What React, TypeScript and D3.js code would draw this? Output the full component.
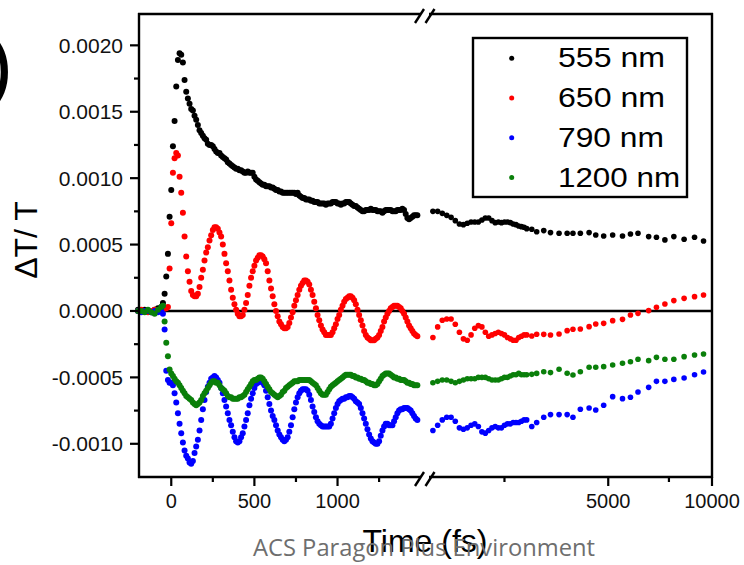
import React from 'react';
import * as d3 from 'd3';

// Values are stored in units of 1e-4 (ΔT/T)
const UNIT = 1e-4;

// Left (linear) segment sample times, fs
const leftTimes: number[] = [...d3.range(-200, -59, 20), ...d3.range(-50, 1481, 10)];
// Right (log) segment sample times, fs
const rightTimes: number[] = [
  1550, 1600, 1650, 1700, 1750, 1800, 1850, 1900, 1950, 2000,
  2050, 2100, 2150, 2200, 2250, 2300, 2350, 2400, 2450, 2500,
  2550, 2600, 2650, 2700, 2750, 2800, 2850, 2900,
  3000, 3100, 3250, 3400, 3600, 3800, 3950, 4150, 4400, 4600, 4850,
  5150, 5500, 5800, 6100, 6550, 6900, 7300, 7750, 8300, 8900, 9450,
];

const black555Left: number[] = [
  0.1, 0.0, 0.1, 0.0, -0.1, 0.1, 0.2, 0.3,
  0.6, 1.3, 2.6, 4.3, 7.1, 9.1, 12.4, 14.3, 16.9, 18.9,
  19.4, 19.3, 18.7, 17.4, 16.5, 16.0, 15.6, 15.2, 15.1, 14.7,
  14.4, 14.0, 13.6, 13.4, 13.2, 13.0, 12.9, 12.6, 12.5, 12.5,
  12.4, 12.2, 12.0, 11.9, 11.9, 11.7, 11.6, 11.5, 11.4, 11.2,
  11.1, 11.0, 10.9, 10.8, 10.7, 10.7, 10.6, 10.6, 10.5, 10.4,
  10.4, 10.5, 10.4, 10.4, 10.4, 10.1, 9.9, 9.8, 9.7, 9.6,
  9.5, 9.5, 9.4, 9.4, 9.4, 9.3, 9.3, 9.2, 9.1, 9.1,
  9.0, 9.0, 8.9, 8.9, 8.9, 8.9, 8.9, 8.9, 8.9, 8.9,
  8.8, 8.9, 8.7, 8.6, 8.5, 8.5, 8.4, 8.4, 8.4, 8.3,
  8.3, 8.2, 8.2, 8.2, 8.1, 8.1, 8.1, 8.1, 8.0, 8.1,
  8.1, 8.1, 8.2, 8.2, 8.2, 8.1, 8.1, 8.0, 8.1, 8.1,
  8.2, 8.2, 8.2, 8.1, 8.0, 7.9, 7.9, 7.8, 7.7, 7.6,
  7.5, 7.5, 7.6, 7.6, 7.6, 7.7, 7.6, 7.6, 7.6, 7.5,
  7.5, 7.5, 7.4, 7.5, 7.6, 7.6, 7.6, 7.6, 7.5, 7.5,
  7.5, 7.6, 7.6, 7.6, 7.7, 7.6, 7.3, 7.0, 6.9, 7.0,
  7.1, 7.2, 7.2, 7.2,
];
const red650Left: number[] = [
  0.0, 0.1, 0.0, -0.1, 0.0, 0.1, 0.0, 0.1,
  0.1, 0.2, 0.2, 0.3, 3.2, 6.6, 10.4, 11.5, 11.9, 11.7,
  10.1, 8.9, 7.4, 5.6, 4.1, 3.0, 2.2, 1.5, 1.2, 1.1,
  1.1, 1.3, 1.8, 2.5, 3.1, 3.8, 4.4, 4.8, 5.3, 5.7,
  6.1, 6.3, 6.3, 6.2, 5.9, 5.6, 5.0, 4.3, 3.6, 3.0,
  2.3, 1.6, 1.0, 0.5, 0.1, -0.2, -0.4, -0.4, -0.3, 0.1,
  0.6, 1.2, 1.9, 2.5, 3.0, 3.4, 3.8, 4.0, 4.2, 4.2,
  4.1, 3.9, 3.6, 3.0, 2.3, 1.7, 1.1, 0.5, 0.0, -0.4,
  -0.8, -1.0, -1.2, -1.3, -1.3, -1.2, -0.9, -0.5, -0.1, 0.4,
  0.8, 1.2, 1.6, 1.9, 2.1, 2.3, 2.3, 2.2, 2.0, 1.6,
  1.2, 0.7, 0.2, -0.3, -0.7, -1.1, -1.4, -1.6, -1.8, -1.8,
  -1.8, -1.8, -1.6, -1.3, -1.0, -0.6, -0.3, 0.1, 0.4, 0.7,
  0.9, 1.0, 1.1, 1.1, 1.0, 0.8, 0.5, 0.1, -0.3, -0.7,
  -1.1, -1.5, -1.8, -2.0, -2.1, -2.2, -2.2, -2.2, -2.1, -2.0,
  -1.8, -1.5, -1.2, -0.8, -0.5, -0.2, 0.0, 0.2, 0.3, 0.4,
  0.4, 0.4, 0.3, 0.2, 0.0, -0.2, -0.5, -0.8, -1.1, -1.3,
  -1.5, -1.7, -1.8, -1.9,
];
const blue790Left: number[] = [
  0.0, -0.1, 0.0, 0.0, -0.1, 0.0, -0.1, 0.0,
  -0.2, -1.4, -4.5, -5.2, -5.4, -5.4, -5.6, -6.2, -6.9, -7.7,
  -8.5, -9.2, -9.9, -10.5, -10.9, -11.1, -11.4, -11.5, -11.3, -10.7,
  -10.2, -9.7, -9.0, -8.2, -7.4, -6.7, -6.1, -5.7, -5.4, -5.1,
  -5.0, -4.9, -5.0, -5.2, -5.4, -5.8, -6.2, -6.7, -7.2, -7.7,
  -8.2, -8.6, -9.1, -9.5, -9.8, -9.9, -9.8, -9.5, -9.2, -8.7,
  -8.2, -7.7, -7.1, -6.6, -6.2, -5.8, -5.5, -5.4, -5.3, -5.3,
  -5.4, -5.6, -6.0, -6.5, -7.0, -7.5, -7.9, -8.2, -8.6, -9.0,
  -9.3, -9.5, -9.7, -9.8, -9.7, -9.5, -9.1, -8.6, -8.0, -7.4,
  -6.9, -6.5, -6.2, -6.0, -5.9, -5.9, -5.9, -6.0, -6.3, -6.7,
  -7.2, -7.6, -8.0, -8.3, -8.5, -8.6, -8.7, -8.7, -8.7, -8.7,
  -8.7, -8.5, -8.1, -7.7, -7.3, -7.0, -6.8, -6.7, -6.6, -6.6,
  -6.5, -6.5, -6.4, -6.4, -6.5, -6.6, -6.8, -6.9, -7.0, -7.3,
  -7.7, -8.1, -8.5, -8.9, -9.3, -9.6, -9.8, -9.9, -10.0, -10.0,
  -9.8, -9.4, -9.0, -8.7, -8.5, -8.5, -8.6, -8.6, -8.6, -8.3,
  -8.0, -7.7, -7.5, -7.4, -7.4, -7.3, -7.3, -7.3, -7.4, -7.5,
  -7.7, -7.9, -8.1, -8.2,
];
const green1200Left: number[] = [
  0.0, 0.0, -0.1, 0.1, -0.1, -0.2, 0.1, 0.3,
  0.4, -0.8, -2.4, -3.4, -4.4, -4.7, -4.9, -5.1, -5.3, -5.4,
  -5.6, -5.8, -6.0, -6.2, -6.4, -6.5, -6.6, -6.7, -6.9, -7.0,
  -7.1, -7.0, -6.9, -6.7, -6.4, -6.2, -6.0, -5.8, -5.6, -5.4,
  -5.3, -5.3, -5.4, -5.4, -5.6, -5.8, -5.9, -6.0, -6.2, -6.4,
  -6.5, -6.5, -6.6, -6.6, -6.6, -6.6, -6.5, -6.5, -6.4, -6.3,
  -6.1, -5.9, -5.7, -5.5, -5.3, -5.2, -5.2, -5.1, -5.0, -5.0,
  -5.1, -5.3, -5.5, -5.7, -5.9, -6.1, -6.2, -6.3, -6.4, -6.5,
  -6.4, -6.3, -6.1, -6.0, -5.8, -5.7, -5.6, -5.5, -5.4, -5.3,
  -5.3, -5.3, -5.2, -5.2, -5.2, -5.2, -5.2, -5.2, -5.2, -5.3,
  -5.4, -5.5, -5.6, -5.8, -6.0, -6.2, -6.3, -6.3, -6.3, -6.1,
  -5.9, -5.7, -5.6, -5.5, -5.4, -5.3, -5.2, -5.1, -5.0, -4.9,
  -4.8, -4.8, -4.8, -4.8, -4.9, -4.9, -5.0, -5.0, -5.1, -5.1,
  -5.2, -5.2, -5.3, -5.4, -5.4, -5.5, -5.5, -5.6, -5.6, -5.5,
  -5.3, -5.1, -4.9, -4.8, -4.7, -4.7, -4.7, -4.8, -4.9, -5.0,
  -5.0, -5.1, -5.1, -5.2, -5.2, -5.2, -5.3, -5.4, -5.4, -5.5,
  -5.5, -5.6, -5.6, -5.6,
];

const black555Right: number[] = [
  7.5, 7.5, 7.35, 7.2, 7.05, 6.8, 6.55, 6.5, 6.6, 6.7,
  6.7, 6.7, 6.85, 7.0, 7.0, 6.8, 6.65, 6.7, 6.65, 6.7,
  6.7, 6.65, 6.55, 6.5, 6.4, 6.35, 6.3, 6.2,
  6.15, 5.97, 6.05, 5.9, 5.85, 5.85, 5.85, 5.85, 5.9, 5.72, 5.65,
  5.72, 5.65, 5.8, 5.85, 5.6, 5.55, 5.35, 5.6, 5.4, 5.55, 5.27,
];
const red650Right: number[] = [
  -2.0, -1.2, -0.7, -0.6, -0.6, -1.0, -1.6, -2.1, -2.2, -1.8,
  -1.3, -1.1, -1.2, -1.6, -1.9, -1.8, -1.7, -1.6, -1.7, -1.8,
  -2.0, -2.1, -2.2, -2.2, -2.0, -1.9, -1.8, -1.8,
  -1.88, -1.75, -1.76, -1.81, -1.73, -1.48, -1.38, -1.36, -1.18, -0.98, -0.93,
  -0.73, -0.63, -0.3, -0.18, 0.03, 0.28, 0.53, 0.78, 0.95, 1.08, 1.2,
];
const blue790Right: number[] = [
  -9.0, -8.6, -8.2, -8.0, -8.0, -8.3, -8.8, -8.9, -8.8, -8.6,
  -8.5, -8.7, -9.1, -9.2, -9.0, -8.8, -8.7, -8.8, -8.8, -8.6,
  -8.5, -8.5, -8.4, -8.4, -8.4, -8.3, -8.2, -8.2,
  -8.7, -8.4, -8.0, -7.8, -7.8, -7.8, -8.0, -7.4, -7.3, -7.45, -7.1,
  -6.45, -6.6, -6.5, -6.1, -5.75, -5.3, -5.3, -5.15, -5.05, -4.8, -4.6,
];
const green1200Right: number[] = [
  -5.4, -5.3, -5.2, -5.2, -5.3, -5.4, -5.3, -5.2, -5.1, -5.1,
  -5.1, -5.0, -5.0, -5.0, -5.1, -5.2, -5.2, -5.2, -5.1, -5.0,
  -5.0, -4.9, -4.8, -4.8, -4.7, -4.8, -4.8, -4.8,
  -4.77, -4.7, -4.57, -4.64, -4.39, -4.69, -4.82, -4.57, -4.24, -4.24, -4.19,
  -4.07, -3.94, -3.82, -3.64, -3.74, -3.49, -3.64, -3.64, -3.44, -3.31, -3.24,
];

const seriesNames = ['555 nm', '650 nm', '790 nm', '1200 nm'];
const seriesColors = ['#000000', '#ff0000', '#0000ff', '#0a7f0a'];
const seriesLeft = [black555Left, red650Left, blue790Left, green1200Left];
const seriesRight = [black555Right, red650Right, blue790Right, green1200Right];
const legendWidths = [107, 107, 106, 122];

const yTickValues = [-0.001, -0.0005, 0, 0.0005, 0.001, 0.0015, 0.002];
const yMinorValues = [-0.00075, -0.00025, 0.00025, 0.00075, 0.00125, 0.00175];
const xLeftMajor = [0, 500, 1000];
const xLeftMinor = [250, 750, 1250];
const xRightMajor = [5000, 10000];
const xRightMinor = [2500, 7500];

const FONT = '"Liberation Sans", Arial, Helvetica, sans-serif';

export default function App() {
  const W = 744, H = 565;
  const left = 139, right = 712, top = 14, bottom = 477;
  const xL = d3.scaleLinear().domain([-200, 1520]).range([138, 424]);
  const xR = d3.scaleLog().domain([1500, 10000]).range([428, 712]);
  const y = d3.scaleLinear().domain([-0.00125, 0.002236]).range([bottom, top]);
  const rL = 3.0;
  const rR = 2.8;
  const breaks = [419.5, 430];
  const sw = 2.4;

  return (
    <svg width={W} height={H} style={{ position: 'absolute', left: 0, top: 0, background: '#fff' }}
      fontFamily={FONT}>
      <rect x={0} y={0} width={W} height={H} fill="#fff" />
      {/* partial panel label */}
      <text x={13} y={93} fontSize={82} textAnchor="end" fill="#000">)</text>

      {/* zero line */}
      <line x1={left} x2={right} y1={y(0)} y2={y(0)} stroke="#000" strokeWidth={2.4} />

      {/* data */}
      {seriesLeft.map((vals, si) => (
        <g key={'L' + si} fill={seriesColors[si]}>
          {vals.map((v, i) => (
            <circle key={i} cx={xL(leftTimes[i])} cy={y(v * UNIT)} r={rL} />
          ))}
          {seriesRight[si].map((v, i) => (
            <circle key={'r' + i} cx={xR(rightTimes[i])} cy={y(v * UNIT)} r={rR} />
          ))}
        </g>
      ))}

      {/* frame */}
      <line x1={left} x2={left} y1={top - 1} y2={bottom + 1} stroke="#000" strokeWidth={sw} />
      <line x1={right} x2={right} y1={top - 1} y2={bottom + 1} stroke="#000" strokeWidth={sw} />
      <line x1={left - 1} x2={right + 1} y1={top} y2={top} stroke="#000" strokeWidth={sw} />
      <line x1={left - 1} x2={right + 1} y1={bottom} y2={bottom} stroke="#000" strokeWidth={sw} />

      {/* axis breaks */}
      {[top, bottom].map((yy, k) => (
        <g key={'b' + k}>
          <rect x={breaks[0] + 1} y={yy - 3} width={breaks[1] - breaks[0] - 2} height={6} fill="#fff" />
          {breaks.map((bx, j) => (
            <line key={j} x1={bx - 4.5} y1={yy + 9} x2={bx + 4.5} y2={yy - 5} stroke="#000" strokeWidth={2.4} />
          ))}
        </g>
      ))}

      {/* y ticks */}
      {yTickValues.map((v) => (
        <g key={'yt' + v}>
          <line x1={left - 9} x2={left} y1={y(v)} y2={y(v)} stroke="#000" strokeWidth={2.2} />
          <text x={123} y={y(v) + 7.5} fontSize={21} textAnchor="end" fill="#111">{v.toFixed(4)}</text>
        </g>
      ))}
      {yMinorValues.map((v) => (
        <line key={'ym' + v} x1={left - 5} x2={left} y1={y(v)} y2={y(v)} stroke="#000" strokeWidth={2.2} />
      ))}

      {/* x ticks */}
      {xLeftMajor.map((t) => (
        <g key={'xl' + t}>
          <line x1={xL(t)} x2={xL(t)} y1={bottom} y2={bottom + 9} stroke="#000" strokeWidth={2.2} />
          <text x={xL(t)} y={508} fontSize={20} textAnchor="middle" fill="#111">{t}</text>
        </g>
      ))}
      {xLeftMinor.map((t) => (
        <line key={'xlm' + t} x1={xL(t)} x2={xL(t)} y1={bottom} y2={bottom + 5} stroke="#000" strokeWidth={2.2} />
      ))}
      {xRightMajor.map((t) => (
        <g key={'xr' + t}>
          <line x1={xR(t)} x2={xR(t)} y1={bottom} y2={bottom + 9} stroke="#000" strokeWidth={2.2} />
          <text x={xR(t)} y={508} fontSize={20} textAnchor="middle" fill="#111">{t}</text>
        </g>
      ))}
      {xRightMinor.map((t) => (
        <line key={'xrm' + t} x1={xR(t)} x2={xR(t)} y1={bottom} y2={bottom + 5} stroke="#000" strokeWidth={2.2} />
      ))}

      {/* axis titles */}
      <text transform="translate(37,240) rotate(-90)" fontSize={32} textAnchor="middle" fill="#000">ΔT/ T</text>
      <text x={425} y={552} fontSize={32} textAnchor="middle" fill="#000">Time (fs)</text>

      {/* legend */}
      <rect x={473} y={38} width={214} height={159} fill="none" stroke="#000" strokeWidth={2.4} />
      {seriesNames.map((name, i) => (
        <g key={'lg' + i}>
          <circle cx={511.7} cy={58.3 + i * 39.7} r={2.5} fill={seriesColors[i]} />
          <text x={558} y={66.7 + i * 40} fontSize={27} fill="#000" textLength={legendWidths[i]}
            lengthAdjust="spacingAndGlyphs">{name}</text>
        </g>
      ))}

      {/* watermark */}
      <text x={424} y={556} fontSize={24} textAnchor="middle" fill="#6e6e6e"
        fontFamily='"Open Sans", "Noto Sans", sans-serif' textLength={342} lengthAdjust="spacingAndGlyphs">
        ACS Paragon Plus Environment
      </text>
    </svg>
  );
}
